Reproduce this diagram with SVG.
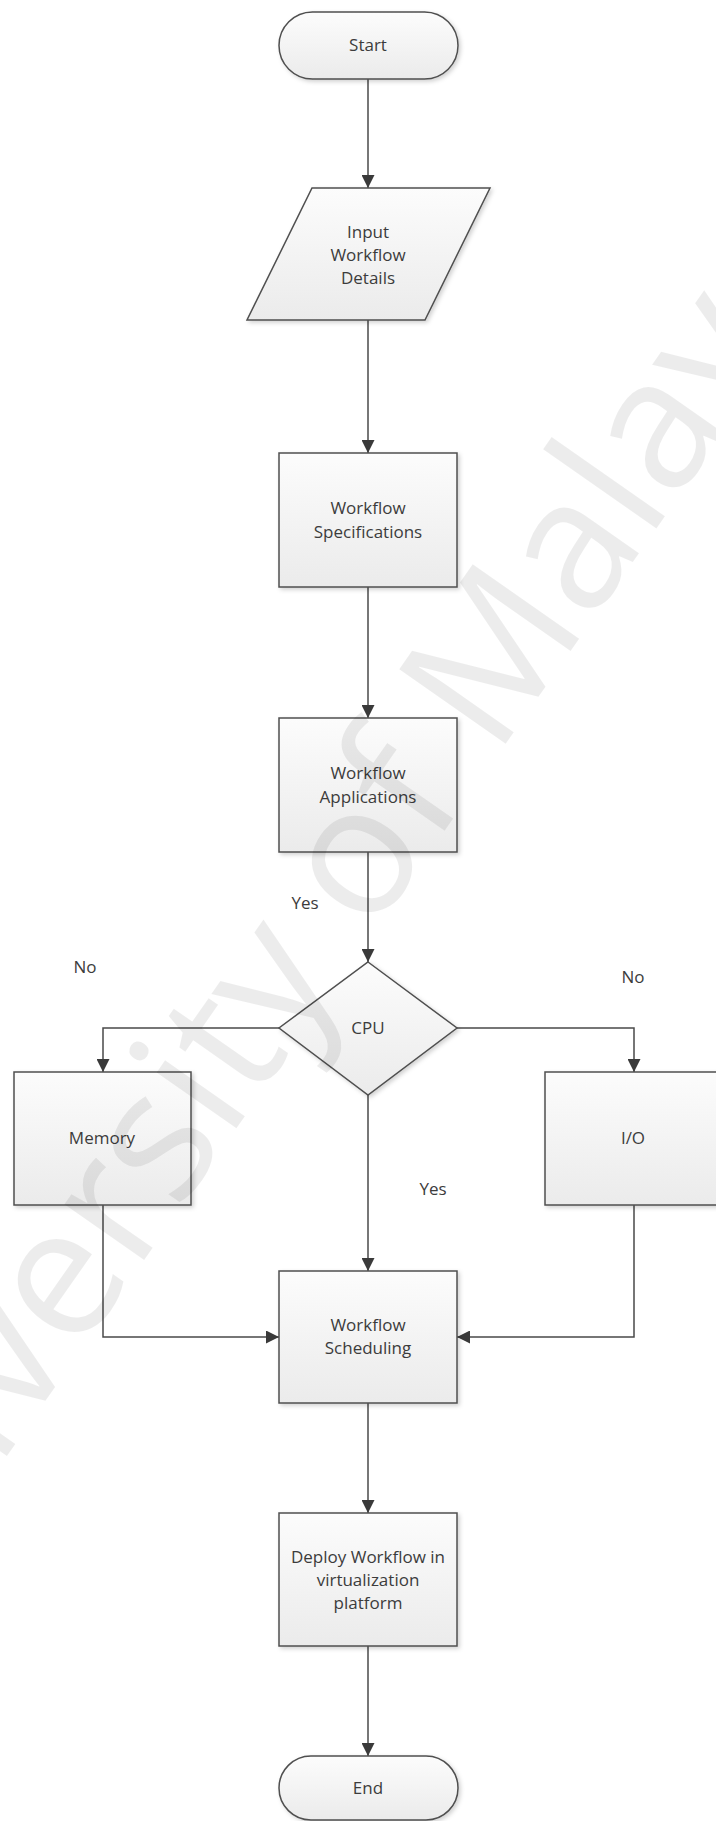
<svg xmlns="http://www.w3.org/2000/svg" width="716" height="1821" viewBox="0 0 716 1821">
  <style>
    .node { fill: url(#boxFill); stroke: #4f4f4f; stroke-width: 1.5; filter: url(#soft); }
    .lbl { font-family: "Open Sans", "Liberation Sans", sans-serif; font-size: 17px; fill: #3c3c3c; text-anchor: middle; }
    .edge { fill: none; stroke: #4a4a4a; stroke-width: 1.5; marker-end: url(#arrow); }
    .wm { font-family: "Open Sans", "Liberation Sans", sans-serif; font-size: 182px; fill: #000; fill-opacity: 0.075; text-anchor: middle; }
  </style>
  <defs>
    <linearGradient id="boxFill" x1="0" y1="0" x2="0" y2="1">
      <stop offset="0" stop-color="#fcfcfc"/>
      <stop offset="1" stop-color="#ebebeb"/>
    </linearGradient>
    <filter id="soft" x="-10%" y="-10%" width="125%" height="125%">
      <feDropShadow dx="2" dy="2" stdDeviation="2" flood-color="#000" flood-opacity="0.18"/>
    </filter>
    <marker id="arrow" markerWidth="13" markerHeight="13" refX="13" refY="6.5" orient="auto" markerUnits="userSpaceOnUse">
      <path d="M0,0 L13,6.5 L0,13 Z" fill="#3a3a3a"/>
    </marker>
  </defs>

  <rect width="716" height="1821" fill="#ffffff"/>

  <!-- connectors -->
  <g id="connectors">
    <path class="edge" d="M368,79 V188"/>
    <path class="edge" d="M368,320 V453"/>
    <path class="edge" d="M368,587 V718"/>
    <path class="edge" d="M368,852 V962"/>
    <path class="edge" d="M279,1028 H103 V1072"/>
    <path class="edge" d="M457,1028 H634 V1072"/>
    <path class="edge" d="M368,1095 V1271"/>
    <path class="edge" d="M103,1205 V1337 H279"/>
    <path class="edge" d="M634,1205 V1337 H457"/>
    <path class="edge" d="M368,1403 V1513"/>
    <path class="edge" d="M368,1646 V1756"/>
    <text class="lbl" x="305" y="909">Yes</text>
    <text class="lbl" x="85" y="973">No</text>
    <text class="lbl" x="633" y="983">No</text>
    <text class="lbl" x="433" y="1195">Yes</text>
  </g>

  <g id="start">
    <rect class="node" x="279" y="12" width="179" height="67" rx="33.5"/>
    <text class="lbl" x="368" y="51">Start</text>
  </g>

  <g id="input">
    <polygon class="node" points="312,188 490,188 425,320 247,320"/>
    <text class="lbl" x="368" y="238">Input</text>
    <text class="lbl" x="368" y="261">Workflow</text>
    <text class="lbl" x="368" y="284">Details</text>
  </g>

  <g id="specifications">
    <rect class="node" x="279" y="453" width="178" height="134"/>
    <text class="lbl" x="368" y="514">Workflow</text>
    <text class="lbl" x="368" y="538">Specifications</text>
  </g>

  <g id="applications">
    <rect class="node" x="279" y="718" width="178" height="134"/>
    <text class="lbl" x="368" y="779">Workflow</text>
    <text class="lbl" x="368" y="803">Applications</text>
  </g>

  <g id="cpu">
    <polygon class="node" points="368,962 457,1028 368,1095 279,1028"/>
    <text class="lbl" x="368" y="1034">CPU</text>
  </g>

  <g id="memory">
    <rect class="node" x="14" y="1072" width="177" height="133"/>
    <text class="lbl" x="102" y="1144">Memory</text>
  </g>

  <g id="io">
    <rect class="node" x="545" y="1072" width="178" height="133"/>
    <text class="lbl" x="633" y="1144">I/O</text>
  </g>

  <g id="scheduling">
    <rect class="node" x="279" y="1271" width="178" height="132"/>
    <text class="lbl" x="368" y="1331">Workflow</text>
    <text class="lbl" x="368" y="1354">Scheduling</text>
  </g>

  <g id="deploy">
    <rect class="node" x="279" y="1513" width="178" height="133"/>
    <text class="lbl" x="368" y="1563">Deploy Workflow in</text>
    <text class="lbl" x="368" y="1586">virtualization</text>
    <text class="lbl" x="368" y="1609">platform</text>
  </g>

  <g id="end">
    <rect class="node" x="279" y="1756" width="179" height="64" rx="32"/>
    <text class="lbl" x="368" y="1794">End</text>
  </g>

  <!-- faint diagonal watermark across the page -->
  <text class="wm" x="350" y="966" transform="rotate(-55 350 966)">University of Malaya</text>
</svg>
